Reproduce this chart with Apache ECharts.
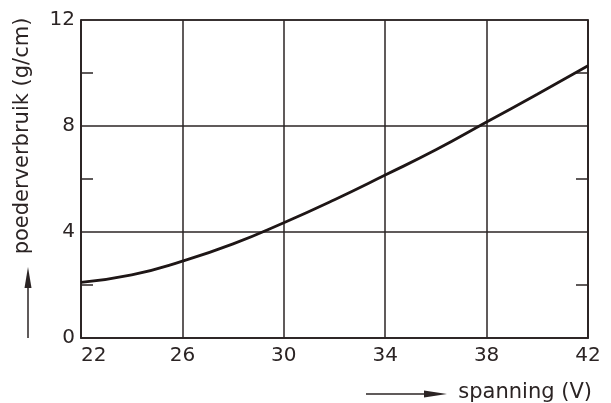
<!DOCTYPE html>
<html>
<head>
<meta charset="utf-8">
<script src="https://cdn.jsdelivr.net/npm/echarts@6/dist/echarts.min.js"></script>
<style>
  html, body { margin: 0; padding: 0; background: #fff; }
  #chart { width: 611px; height: 403px; }
</style>
</head>
<body>
<div id="chart"></div>
<script>
// Powder consumption versus arc voltage
const spanning = [22, 24, 26, 28, 30, 32, 34, 36, 38, 40, 42];
const poederverbruik = [2.1, 2.38, 2.9, 3.55, 4.35, 5.22, 6.15, 7.1, 8.15, 9.2, 10.27];
const xTicks = [22, 26, 30, 34, 38, 42];
const yTicks = [0, 4, 8, 12];
const xTitle = 'spanning (V)';
const yTitle = 'poederverbruik (g/cm)';

const ink = '#2b2424';
const font = '"DejaVu Sans", sans-serif';

const chart = echarts.init(document.getElementById('chart'), null, { renderer: 'canvas' });

const yBase = {
  type: 'value',
  min: yTicks[0],
  max: yTicks[yTicks.length - 1],
  interval: 4,
  axisLine: { show: true, lineStyle: { color: ink, width: 1.6 } },
  axisTick: { show: false, inside: true },
  minorTick: { show: true, splitNumber: 2, length: 12, lineStyle: { color: ink, width: 1.5 } },
  minorSplitLine: { show: false }
};

chart.setOption({
  animation: false,
  backgroundColor: '#fff',
  grid: { left: 81, right: 23, top: 20, bottom: 65, show: true, borderColor: ink, borderWidth: 1.6 },
  xAxis: {
    type: 'value',
    min: xTicks[0],
    max: xTicks[xTicks.length - 1],
    interval: 4,
    axisLine: { show: true, lineStyle: { color: ink, width: 1.6 } },
    axisTick: { show: false },
    axisLabel: { color: ink, fontSize: 20, fontFamily: font, margin: 8, alignMinLabel: 'left' },
    splitLine: { show: true, lineStyle: { color: ink, width: 1.5 } }
  },
  yAxis: [
    Object.assign({}, yBase, {
      position: 'left',
      axisLabel: { color: ink, fontSize: 20, fontFamily: font, margin: 6 },
      splitLine: { show: true, lineStyle: { color: ink, width: 1.5 } }
    }),
    Object.assign({}, yBase, {
      position: 'right',
      axisLabel: { show: false },
      splitLine: { show: false }
    })
  ],
  series: [{
    type: 'line',
    data: spanning.map((v, i) => [v, poederverbruik[i]]),
    smooth: 0.5,
    showSymbol: false,
    lineStyle: { color: '#1e1616', width: 2.8 },
    z: 5
  }],
  graphic: [
    {
      type: 'text', x: 23, y: 136, rotation: Math.PI / 2,
      style: { text: yTitle, font: '21px ' + font, fill: ink, textAlign: 'center', textVerticalAlign: 'middle' }
    },
    { type: 'line', shape: { x1: 28, y1: 338, x2: 28, y2: 282 }, style: { stroke: ink, lineWidth: 1.5 } },
    { type: 'polygon', shape: { points: [[28, 267], [24.5, 288], [31.5, 288]] }, style: { fill: ink } },
    {
      type: 'text', x: 592, y: 393,
      style: { text: xTitle, font: '21px ' + font, fill: ink, textAlign: 'right', textVerticalAlign: 'middle' }
    },
    { type: 'line', shape: { x1: 366, y1: 394, x2: 430, y2: 394 }, style: { stroke: ink, lineWidth: 1.5 } },
    { type: 'polygon', shape: { points: [[447, 394], [424, 390.5], [424, 397.5]] }, style: { fill: ink } }
  ]
});
</script>
</body>
</html>
